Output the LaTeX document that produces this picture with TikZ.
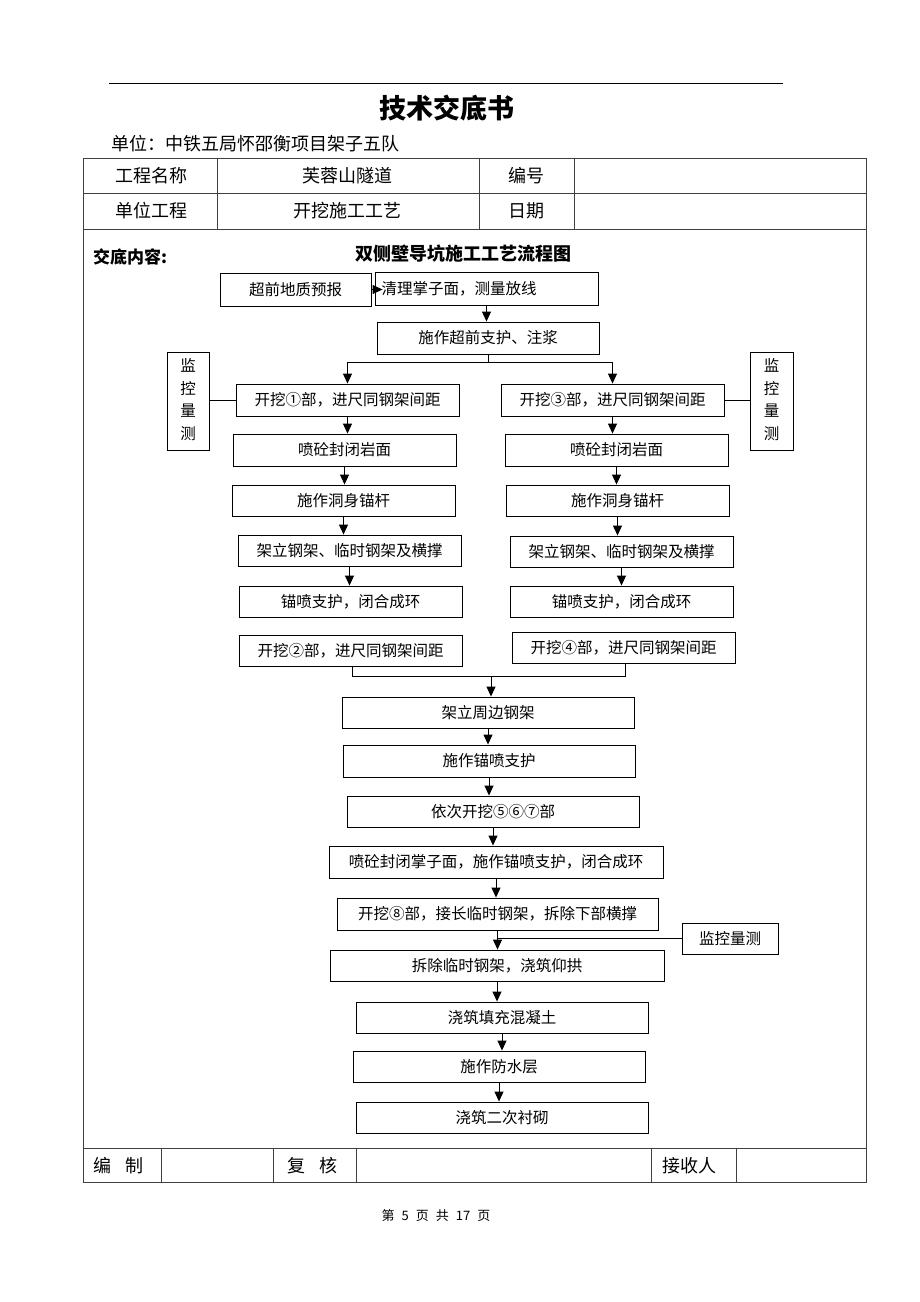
\documentclass[tikz,border=0pt]{standalone}
\usepackage{fontspec}
\setmainfont{Noto Sans CJK SC}
\usetikzlibrary{arrows.meta,calc}
\begin{document}
\begin{tikzpicture}[x=1pt,y=-1pt,
  bx/.style={draw,line width=0.9pt,inner sep=0pt,font=\fontsize{15.5}{16}\selectfont},
  arr/.style={line width=0.9pt,-{Triangle[length=10pt,width=9pt]}},
  ln/.style={line width=0.9pt},
  tb/.style={line width=0.8pt,draw=black!75}]
\useasboundingbox (0,0) rectangle (920,1302);
\fill[white] (0,0) rectangle (920,1302);
\newcommand{\bx}[6]{\node[bx,minimum width={#4-#2},minimum height={#5-#3}] (#1) at ({(#2+#4)/2},{(#3+#5)/2}) {#6};}
% header
\draw[line width=0.9pt] (109,83) -- (783,83);
\node[font=\fontsize{27}{27}\selectfont\bfseries] (title) at (447,108) {技术交底书};
\node[anchor=west,inner sep=0pt,font=\fontsize{18}{18}\selectfont] (unit) at (111,144) {单位：中铁五局怀邵衡项目架子五队};
% table
\draw[tb] (83,158) rectangle (866,1182);
\draw[tb] (83,193) -- (866,193);
\draw[tb] (83,229) -- (866,229);
\draw[tb] (83,1148) -- (866,1148);
\foreach \x in {217,479,574} \draw[tb] (\x,158) -- (\x,229);
\foreach \x in {161,273,356,651,736} \draw[tb] (\x,1148) -- (\x,1182);
\begin{scope}[every node/.style={font=\fontsize{18}{18}\selectfont,inner sep=0pt}]
\node (t1) at (151,176) {工程名称};
\node (t2) at (347,176) {芙蓉山隧道};
\node (t3) at (526,176) {编号};
\node (t4) at (151,211) {单位工程};
\node (t5) at (347,211) {开挖施工工艺};
\node (t6) at (526,211) {日期};
\node[anchor=west] (f1) at (93,1166) {编\hspace{14pt}制};
\node[anchor=west] (f2) at (287,1166) {复\hspace{14pt}核};
\node[anchor=west] (f3) at (662,1166) {接收人};
\end{scope}
\node[anchor=west,inner sep=0pt,font=\fontsize{17}{17}\selectfont\bfseries] (jd) at (93,257) {交底内容:};
\node[font=\fontsize{18}{18}\selectfont\bfseries] (ft) at (463,254) {双侧壁导坑施工工艺流程图};
% flow boxes
\bx{b1}{220}{273}{371}{306}{超前地质预报}
\node[draw,line width=0.9pt,inner sep=0pt,minimum width=223,minimum height=33,font=\fontsize{15.5}{16}\selectfont,text width=210,align=left] (b2) at (486.5,288.5) {清理掌子面，测量放线};
\bx{b3}{377}{322}{599}{354}{施作超前支护、注浆}
\bx{L1}{236}{384}{459}{416}{开挖①部，进尺同钢架间距}
\bx{L2}{233}{434}{456}{466}{喷砼封闭岩面}
\bx{L3}{232}{485}{455}{516}{施作洞身锚杆}
\bx{L4}{238}{535}{461}{566}{架立钢架、临时钢架及横撑}
\bx{L5}{239}{586}{462}{617}{锚喷支护，闭合成环}
\bx{L6}{239}{635}{462}{666}{开挖②部，进尺同钢架间距}
\bx{R1}{501}{384}{724}{416}{开挖③部，进尺同钢架间距}
\bx{R2}{505}{434}{728}{466}{喷砼封闭岩面}
\bx{R3}{506}{485}{729}{516}{施作洞身锚杆}
\bx{R4}{510}{536}{733}{567}{架立钢架、临时钢架及横撑}
\bx{R5}{510}{586}{733}{617}{锚喷支护，闭合成环}
\bx{R6}{512}{632}{735}{663}{开挖④部，进尺同钢架间距}
\bx{ML}{167}{352}{209}{450}{\begin{tabular}{@{}c@{}}监\\[5pt]控\\[5pt]量\\[5pt]测\end{tabular}}
\bx{MR}{750}{352}{793}{450}{\begin{tabular}{@{}c@{}}监\\[5pt]控\\[5pt]量\\[5pt]测\end{tabular}}
\bx{C1}{342}{697}{634}{728}{架立周边钢架}
\bx{C2}{343}{745}{635}{777}{施作锚喷支护}
\bx{C3}{347}{796}{639}{827}{依次开挖⑤⑥⑦部}
\bx{C4}{329}{846}{663}{878}{喷砼封闭掌子面，施作锚喷支护，闭合成环}
\bx{C5}{337}{898}{658}{930}{开挖⑧部，接长临时钢架，拆除下部横撑}
\bx{C6}{330}{950}{664}{981}{拆除临时钢架，浇筑仰拱}
\bx{C7}{356}{1002}{648}{1033}{浇筑填充混凝土}
\bx{C8}{353}{1051}{645}{1082}{施作防水层}
\bx{C9}{356}{1102}{648}{1133}{浇筑二次衬砌}
\bx{MB}{682}{923}{778}{954}{监控量测}
% connectors
\draw[arr] (b1.east) -- ($(b1.east -| b2.west)+(8,0)$);
\draw[arr] (b2.south) -- (b2.south |- b3.north);
\coordinate (br) at ($(b3.south)+(0,8)$);
\draw[ln] (b3.south) -- (br);
\draw[arr] (br) -| (L1.north);
\draw[arr] (br) -| (R1.north);
\foreach \a/\b in {L1/L2,L2/L3,L3/L4,L4/L5,R1/R2,R2/R3,R3/R4,R4/R5}
  \draw[arr] (\a.south) -- (\a.south |- \b.north);
\draw[ln] (ML.east |- L1.west) -- (L1.west);
\draw[ln] (R1.east) -- (R1.east -| MR.west);
\coordinate (mg) at (491,676);
\draw[ln] ($(L6.south)+(2,0)$) |- (mg) -| ($(R6.south)+(2,0)$);
\draw[arr] (mg) -- (mg |- C1.north);
\draw[arr] (C1.south) -- (C1.south |- C2.north);
\draw[arr] (C2.south) -- (C2.south |- C3.north);
\draw[arr] (C3.south) -- (C3.south |- C4.north);
\draw[arr] (C4.south) -- (C4.south |- C5.north);
\draw[arr] (C5.south) -- (C5.south |- C6.north);
\draw[arr] (C6.south) -- (C6.south |- C7.north);
\draw[arr] (C7.south) -- (C7.south |- C8.north);
\draw[arr] (C8.south) -- (C8.south |- C9.north);
\draw[ln] (MB.west) -- (MB.west -| C5.south);
% footer
\node[font=\fontsize{13}{13}\selectfont] (pg) at (436,1216) {第\hspace{7pt}5\hspace{7pt}页\hspace{7pt}共\hspace{7pt}17\hspace{7pt}页};
\end{tikzpicture}
\end{document}
